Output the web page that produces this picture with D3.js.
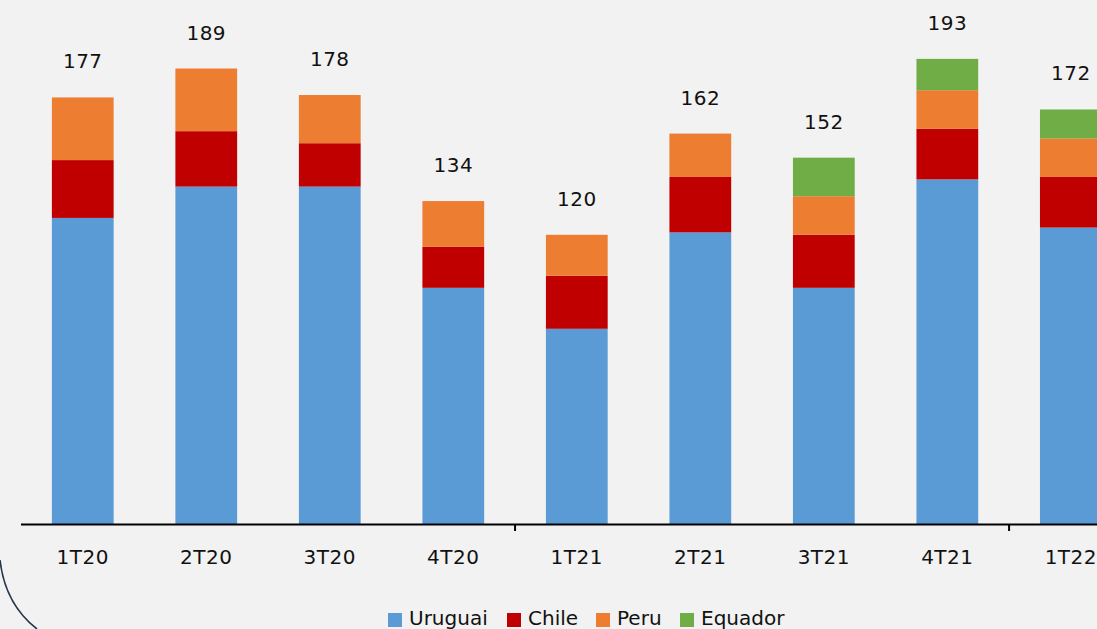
<!DOCTYPE html>
<html>
<head>
<meta charset="utf-8">
<script src="https://cdn.jsdelivr.net/npm/d3@7"></script>
<style>
  html, body { margin: 0; padding: 0; background: #f2f2f2; overflow: hidden; }
  svg { display: block; font-family: "DejaVu Sans", sans-serif; }
</style>
</head>
<body>
<svg id="chart" width="1097" height="629"></svg>
<script>
// quarters and series values
var quarters = ["1T20", "2T20", "3T20", "4T20", "1T21", "2T21", "3T21", "4T21", "1T22"];
var uruguai  = [127, 140, 140, 98, 81, 121, 98, 143, 123];
var chile    = [24, 23, 18, 17, 22, 23, 22, 21, 21];
var peru     = [26, 26, 20, 19, 17, 18, 16, 16, 16];
var equador  = [0, 0, 0, 0, 0, 0, 16, 13, 12];
var totals   = [177, 189, 178, 134, 120, 162, 152, 193, 172];

var seriesNames  = ["Uruguai", "Chile", "Peru", "Equador"];
var seriesColors = ["#5b9bd5", "#c00000", "#ed7d31", "#70ad47"];

var svg = d3.select("#chart"),
    width = +svg.attr("width"), height = +svg.attr("height");

svg.append("rect").attr("width", width).attr("height", height).attr("fill", "#f2f2f2");

var baseY = 524;

var x = d3.scaleBand().domain(quarters).range([21, 1132.6]).paddingInner(0.5).paddingOuter(0.25);
var y = d3.scaleLinear().domain([0, 200]).range([baseY, baseY - 482]);

// build rows for the stack
var rows = quarters.map(function(q, i) {
  return { q: q, Uruguai: uruguai[i], Chile: chile[i], Peru: peru[i], Equador: equador[i] };
});
var stacked = d3.stack().keys(seriesNames)(rows);

svg.append("g").selectAll("g")
  .data(stacked)
  .enter().append("g")
  .attr("fill", function(d, i) { return seriesColors[i]; })
  .selectAll("rect")
  .data(function(d) { return d.filter(function(s) { return s[1] > s[0]; }); })
  .enter().append("rect")
  .attr("x", function(d) { return x(d.data.q); })
  .attr("y", function(d) { return y(d[1]); })
  .attr("width", x.bandwidth())
  .attr("height", function(d) { return y(d[0]) - y(d[1]); });

// total labels above bars
svg.append("g").selectAll("text")
  .data(quarters)
  .enter().append("text")
  .attr("x", function(d) { return x(d) + x.bandwidth() / 2; })
  .attr("y", function(d, i) { return y(d3.sum([uruguai[i], chile[i], peru[i], equador[i]])) - 29; })
  .attr("text-anchor", "middle")
  .attr("font-size", 20)
  .attr("letter-spacing", 0.5)
  .attr("fill", "#111")
  .text(function(d, i) { return totals[i]; });

// x axis line + year separator ticks
svg.append("line")
  .attr("x1", 21).attr("x2", width)
  .attr("y1", baseY + 0.5).attr("y2", baseY + 0.5)
  .attr("stroke", "#000").attr("stroke-width", 2);

var sep = [quarters[3], quarters[7]];
svg.append("g").selectAll("line")
  .data(sep)
  .enter().append("line")
  .attr("x1", function(d) { return x(d) + x.bandwidth() + x.step() * x.paddingInner() / 2; })
  .attr("x2", function(d) { return x(d) + x.bandwidth() + x.step() * x.paddingInner() / 2; })
  .attr("y1", baseY).attr("y2", baseY + 7)
  .attr("stroke", "#000").attr("stroke-width", 2);

// category labels
svg.append("g").selectAll("text")
  .data(quarters)
  .enter().append("text")
  .attr("x", function(d) { return x(d) + x.bandwidth() / 2; })
  .attr("y", 564)
  .attr("text-anchor", "middle")
  .attr("font-size", 20)
  .attr("letter-spacing", 0.5)
  .attr("fill", "#111")
  .text(function(d) { return d; });

// legend
var legendX = [388, 507, 596, 680];
var legend = svg.append("g").selectAll("g")
  .data(seriesNames)
  .enter().append("g")
  .attr("transform", function(d, i) { return "translate(" + legendX[i] + ",0)"; });
legend.append("rect")
  .attr("x", 0).attr("y", 613).attr("width", 14).attr("height", 14)
  .attr("fill", function(d, i) { return seriesColors[i]; });
legend.append("text")
  .attr("x", 21).attr("y", 625)
  .attr("font-size", 20)
  .attr("fill", "#111")
  .text(function(d) { return d; });

// decorative slide border arc, bottom-left
svg.append("path")
  .attr("d", "M0,560 Q5,604 37,629")
  .attr("fill", "none")
  .attr("stroke", "#26364a")
  .attr("stroke-width", 1.6);
</script>
</body>
</html>
